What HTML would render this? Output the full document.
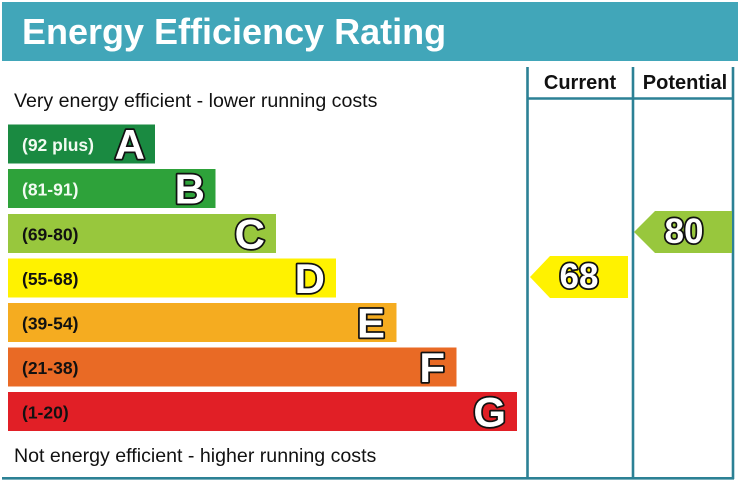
<!DOCTYPE html>
<html><head><meta charset="utf-8"><style>
html,body{margin:0;padding:0;background:#fff;}
svg{display:block;}
text{font-family:"Liberation Sans",Arial,sans-serif;}
.lbl{font-weight:bold;font-size:17.5px;}
.big{font-weight:bold;font-size:42px;fill:#fff;stroke:#111;stroke-width:3.5;paint-order:stroke;stroke-linejoin:round;}
.num{font-weight:bold;font-size:35px;fill:#fff;stroke:#111;stroke-width:3.5;paint-order:stroke;stroke-linejoin:round;}
</style></head><body>
<svg width="738" height="483" viewBox="0 0 738 483" xmlns="http://www.w3.org/2000/svg">
<rect x="0" y="0" width="738" height="483" fill="#fff"/>
<rect x="2" y="2" width="736" height="59" fill="#41a6b9"/>
<text x="22" y="44" font-size="36" font-weight="bold" fill="#fff">Energy Efficiency Rating</text>

<!-- table lines -->
<g stroke="#2c8195" stroke-width="2.6" fill="none">
<line x1="527.5" y1="67" x2="527.5" y2="479"/>
<line x1="633" y1="67" x2="633" y2="479"/>
<line x1="733" y1="67" x2="733" y2="479"/>
<line x1="527" y1="98.5" x2="734" y2="98.5"/>
<line x1="2" y1="478.3" x2="734" y2="478.3"/>
</g>
<text x="580" y="89" font-size="20" font-weight="bold" fill="#111" text-anchor="middle">Current</text>
<text x="685" y="89" font-size="20" font-weight="bold" fill="#111" text-anchor="middle">Potential</text>

<text x="14" y="107" font-size="19.6" fill="#111">Very energy efficient - lower running costs</text>
<text x="14" y="462" font-size="19.6" fill="#111">Not energy efficient - higher running costs</text>

<!-- bars -->
<rect x="8" y="124.5" width="147" height="39" fill="#1a8a41"/>
<rect x="8" y="169" width="207.5" height="39" fill="#2ea23a"/>
<rect x="8" y="214" width="268" height="39" fill="#98c73d"/>
<rect x="8" y="258.5" width="328" height="39" fill="#fff200"/>
<rect x="8" y="303" width="388.5" height="39" fill="#f5ac20"/>
<rect x="8" y="347.5" width="448.5" height="39" fill="#e96a25"/>
<rect x="8" y="392" width="509" height="39" fill="#e11f26"/>

<text class="lbl" x="22" y="151" fill="#f2fbf2">(92 plus)</text>
<text class="lbl" x="22" y="195.5" fill="#f2fbf2">(81-91)</text>
<text class="lbl" x="22" y="240.5" fill="#111">(69-80)</text>
<text class="lbl" x="22" y="285" fill="#111">(55-68)</text>
<text class="lbl" x="22" y="329.5" fill="#111">(39-54)</text>
<text class="lbl" x="22" y="374" fill="#111">(21-38)</text>
<text class="lbl" x="22" y="418.5" fill="#111">(1-20)</text>

<text class="big" x="145" y="159" text-anchor="end">A</text>
<text class="big" x="205" y="203.5" text-anchor="end">B</text>
<text class="big" x="265" y="248.5" text-anchor="end">C</text>
<text class="big" x="325" y="293" text-anchor="end">D</text>
<text class="big" x="385" y="337.5" text-anchor="end">E</text>
<text class="big" x="445" y="382" text-anchor="end">F</text>
<text class="big" x="506" y="426.5" text-anchor="end">G</text>

<!-- arrows -->
<polygon points="530,277 550,256 628,256 628,298 550,298" fill="#fff200"/>
<text class="num" x="579" y="288" text-anchor="middle">68</text>
<polygon points="634,232 655,211 732,211 732,253 655,253" fill="#98c73d"/>
<text class="num" x="684" y="243" text-anchor="middle">80</text>
</svg>
</body></html>
